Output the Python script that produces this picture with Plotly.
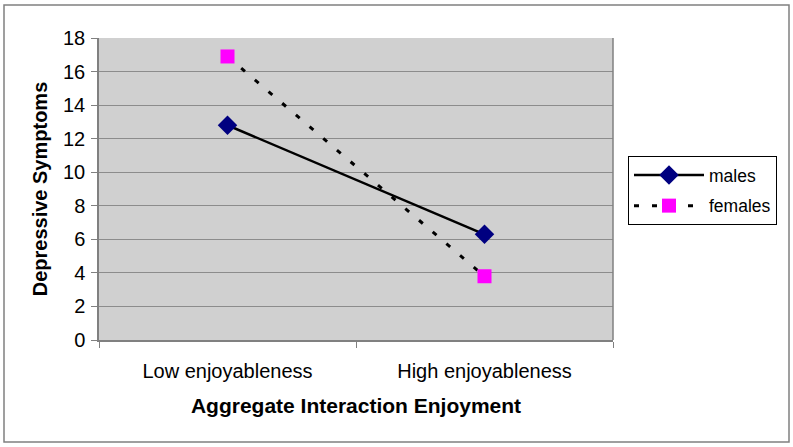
import plotly.graph_objects as go

categories = ["Low enjoyableness", "High enjoyableness"]
males = [12.8, 6.3]
females = [16.9, 3.8]
y_ticks = [0, 2, 4, 6, 8, 10, 12, 14, 16, 18]

FONT = "Liberation Sans, Arial, sans-serif"

fig = go.Figure()
fig.add_trace(go.Scatter(
    x=categories, y=males, name="males", mode="lines+markers",
    legendgroup="m",
    line=dict(color="black", width=2.5),
    marker=dict(symbol="diamond", size=15, color="#000080",
                line=dict(color="#000080", width=0)),
))
fig.add_trace(go.Scatter(
    x=categories, y=females, name="females", mode="lines+markers",
    legendgroup="f",
    line=dict(color="black", width=3, dash="5px,13px"),
    marker=dict(symbol="square", size=14, color="#FF00FF",
                line=dict(color="#FF00FF", width=0)),
))

L, R, T, B = 99, 613, 38, 340
W, H = 793, 447
pw, ph = R - L, B - T

fig.update_layout(
    width=W, height=H,
    margin=dict(l=L, r=W - R, t=T, b=H - B, pad=0),
    paper_bgcolor="white",
    plot_bgcolor="#D0D0D0",
    font=dict(family=FONT, size=20, color="black"),
    showlegend=True,
    legend=dict(
        x=(628 - L) / pw, y=(B - 156) / ph, xanchor="left", yanchor="top",
        bordercolor="black", borderwidth=1, bgcolor="white",
        font=dict(family=FONT, size=17.5, color="black"),
        itemwidth=70, tracegroupgap=5,
    ),
    xaxis=dict(
        type="category", tickson="boundaries", ticks="outside", ticklen=6,
        tickcolor="#808080", showline=True, linecolor="#808080", linewidth=1.5,
        showgrid=False, range=[-0.5, 1.5], mirror=False,
        ticklabelstandoff=12,
        title=dict(text="<b>Aggregate Interaction Enjoyment</b>",
                   font=dict(family=FONT, size=21), standoff=18),
        tickfont=dict(family=FONT, size=20),
    ),
    yaxis=dict(
        range=[0, 18], tickvals=y_ticks, ticks="outside", ticklen=6,
        tickcolor="#808080", showline=True, linecolor="#808080", linewidth=1.5,
        showgrid=True, gridcolor="#8C8C8C", gridwidth=1, zeroline=False,
        ticklabelstandoff=2,
        title=dict(text="<b>Depressive Symptoms</b>",
                   font=dict(family=FONT, size=20), standoff=10),
        tickfont=dict(family=FONT, size=20),
    ),
    shapes=[
        dict(type="line", xref="paper", yref="paper", x0=1, x1=1, y0=0, y1=1,
             line=dict(color="#808080", width=1.5)),
        dict(type="rect", xref="paper", yref="paper",
             x0=(4 - L) / pw, x1=(789 - L) / pw,
             y0=(B - 442) / ph, y1=(B - 5) / ph,
             line=dict(color="#808080", width=1.5), layer="below"),
    ],
)

fig.write_html("out.html", config={"displayModeBar": False},
               post_script="document.body.style.margin='0';document.body.style.padding='0';")
